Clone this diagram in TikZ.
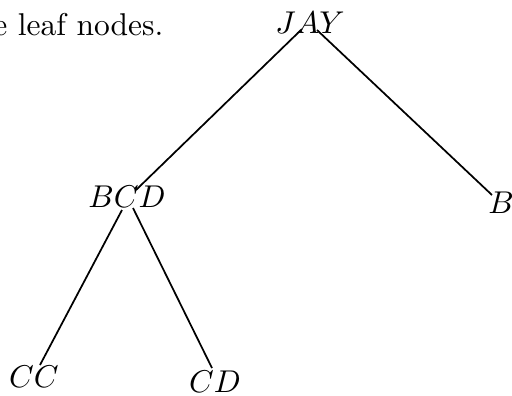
\documentclass[tikz,border=0pt]{standalone}
\usetikzlibrary{calc}
\begin{document}
\begin{tikzpicture}[x=0.3175pt,y=-0.3175pt,
  lbl/.style={inner sep=0pt,outer sep=0pt,anchor=base},
  edge/.style={line width=0.55pt,black}]
\useasboundingbox (0,0) rectangle (512,395);
\clip (0,0) rectangle (512,395);
\node[inner sep=0pt,anchor=base east] (txt) at (164,35) {e leaf nodes.};
\node[lbl] (jay) at (310,33) {$JAY$};
\node[lbl] (bcd) at (127,207) {$BCD$};
\node[lbl] (b) at (501,213) {$B$};
\node[lbl] (cc) at (34,387) {$CC$};
\node[lbl] (cd) at (215,392) {$CD$};
\draw[edge] ($(jay.base)+(-8,-4)$) -- ($(bcd.base)+(9,-17)$);
\draw[edge] ($(jay.base)+(7,-3)$) -- ($(b.base)+(-9,-18)$);
\draw[edge] ($(bcd.base)+(-5,3)$) -- ($(cc.base)+(6,-22)$);
\draw[edge] ($(bcd.base)+(6,1)$) -- ($(cd.base)+(-3,-24)$);
\end{tikzpicture}
\end{document}
